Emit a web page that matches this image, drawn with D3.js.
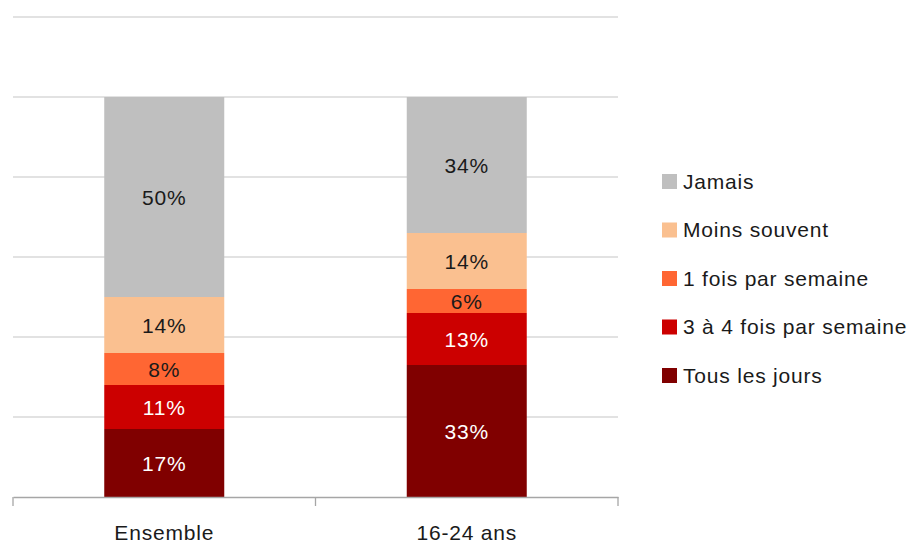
<!DOCTYPE html>
<html>
<head>
<meta charset="utf-8">
<script src="https://cdn.jsdelivr.net/npm/d3@7/dist/d3.min.js"></script>
<style>
  body { margin: 0; background: #fff; }
  svg text { font-family: "Liberation Sans", Arial, sans-serif; letter-spacing: 0.8px; }
</style>
</head>
<body>
<svg id="chart" width="920" height="543"></svg>
<script>
const categories = ["Ensemble", "16-24 ans"];
const seriesNames = ["Tous les jours", "3 à 4 fois par semaine", "1 fois par semaine", "Moins souvent", "Jamais"];
const tousLesJours = [17, 33];
const troisQuatre = [11, 13];
const uneFois = [8, 6];
const moinsSouvent = [14, 14];
const jamais = [50, 34];
const yTicks = [0, 20, 40, 60, 80, 100, 120];

const colors = ["#800000", "#cc0000", "#ff6633", "#fac090", "#bfbfbf"];
const labelColors = ["#ffffff", "#ffffff", "#1a1a1a", "#1a1a1a", "#1a1a1a"];

const data = categories.map(function(c, i) {
  return {
    cat: c,
    "Tous les jours": tousLesJours[i],
    "3 à 4 fois par semaine": troisQuatre[i],
    "1 fois par semaine": uneFois[i],
    "Moins souvent": moinsSouvent[i],
    "Jamais": jamais[i]
  };
});

const svg = d3.select("#chart");
const plotLeft = 13, plotRight = 618, plotTop = 17, plotBottom = 497;
const fontSize = 21;

const x = d3.scaleBand().domain(categories).range([plotLeft, plotRight]).paddingInner(0).paddingOuter(0);
const y = d3.scaleLinear().domain([0, 120]).range([plotBottom, plotTop]);
const z = d3.scaleOrdinal().domain(seriesNames).range(colors);
const barW = 120;

// gridlines
svg.append("g")
  .selectAll("line")
  .data(yTicks.slice(1))
  .enter().append("line")
    .attr("x1", plotLeft)
    .attr("x2", plotRight)
    .attr("y1", function(d) { return y(d); })
    .attr("y2", function(d) { return y(d); })
    .attr("stroke", "#d9d9d9")
    .attr("stroke-width", 1.3);

const stacked = d3.stack().keys(seriesNames)(data);

const layers = svg.append("g")
  .selectAll("g")
  .data(stacked)
  .enter().append("g")
    .attr("fill", function(d) { return z(d.key); });

layers.selectAll("rect")
  .data(function(d) { return d; })
  .enter().append("rect")
    .attr("x", function(d) { return x(d.data.cat) + x.bandwidth() / 2 - barW / 2; })
    .attr("y", function(d) { return y(d[1]); })
    .attr("width", barW)
    .attr("height", function(d) { return y(d[0]) - y(d[1]); });

layers.selectAll("text")
  .data(function(d, i) { return d.map(function(p) { return {p: p, i: i}; }); })
  .enter().append("text")
    .attr("x", function(d) { return x(d.p.data.cat) + x.bandwidth() / 2; })
    .attr("y", function(d) { return (y(d.p[0]) + y(d.p[1])) / 2; })
    .attr("dy", "0.36em")
    .attr("text-anchor", "middle")
    .attr("font-size", fontSize)
    .attr("fill", function(d) { return labelColors[d.i]; })
    .text(function(d) { return (d.p[1] - d.p[0]) + "%"; });

// x axis
const xAxis = svg.append("g")
  .attr("transform", "translate(0," + plotBottom + ")")
  .call(d3.axisBottom(x).tickSize(0).tickPadding(28));
xAxis.select(".domain").attr("stroke", "#a6a6a6").attr("stroke-width", 1.3);
xAxis.selectAll("text").attr("font-size", fontSize).attr("fill", "#1a1a1a")
  .attr("font-family", "'Liberation Sans', Arial, sans-serif");

svg.append("g")
  .selectAll("line")
  .data([plotLeft, x(categories[1]), plotRight])
  .enter().append("line")
    .attr("x1", function(d) { return d; })
    .attr("x2", function(d) { return d; })
    .attr("y1", plotBottom)
    .attr("y2", plotBottom + 9)
    .attr("stroke", "#a6a6a6")
    .attr("stroke-width", 1.3);

// legend
const legendOrder = seriesNames.slice().reverse();
const legend = svg.append("g")
  .selectAll("g")
  .data(legendOrder)
  .enter().append("g")
    .attr("transform", function(d, i) { return "translate(662," + (181 + i * 48.5) + ")"; });

legend.append("rect")
  .attr("x", 0)
  .attr("y", -7)
  .attr("width", 15)
  .attr("height", 15)
  .attr("fill", z);

legend.append("text")
  .attr("x", 21)
  .attr("y", 0)
  .attr("dy", "0.36em")
  .attr("font-size", fontSize)
  .attr("fill", "#1a1a1a")
  .text(function(d) { return d; });
</script>
</body>
</html>
